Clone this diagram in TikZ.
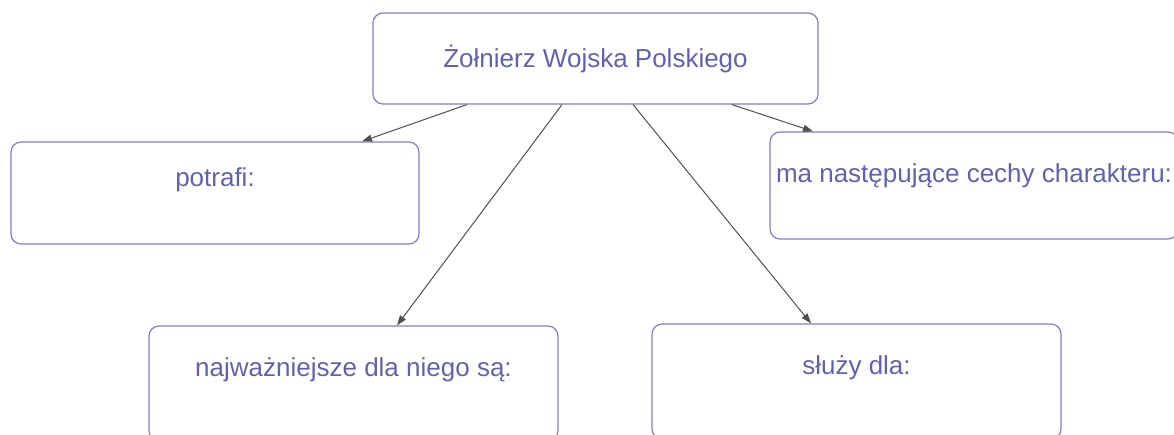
\documentclass[tikz,border=0pt]{standalone}
\usepackage{fontspec}
\setmainfont{Liberation Sans}
\usetikzlibrary{arrows.meta}
\definecolor{boxline}{RGB}{128,128,200}
\definecolor{boxtext}{RGB}{96,98,176}
\definecolor{arrowline}{RGB}{80,80,80}
\tikzset{
  box/.style={draw=boxline, line width=1.2pt, rounded corners=10pt, text=boxtext,
    font=\fontsize{26}{30}\selectfont, inner sep=0pt},
}
\begin{document}
\begin{tikzpicture}[x=1pt,y=-1pt]
      \useasboundingbox (0,0) rectangle (1174,435);
      \clip (0,0) rectangle (1174,435);
      \draw
        (595.5,58.5) node[box, minimum width=445pt, text height=55pt, text depth=36pt] (zolnierz){Żołnierz Wojska Polskiego}
        (215,193) node[box, minimum width=408pt, text height=45pt, text depth=57pt] (potrafi){potrafi:}
        (974,185.5) node[box, minimum width=408pt, text height=51pt, text depth=56pt] (cechy){ma następujące cechy charakteru:}
        (353.5,383.5) node[box, minimum width=409pt, text height=50pt, text depth=65pt] (najwazniejsze){najważniejsze dla niego są:}
        (856.5,381.5) node[box, minimum width=409pt, text height=50pt, text depth=65pt] (sluzy){służy dla:};
      \begin{scope}[-{Triangle[length=10pt,width=7pt]}, draw=arrowline, line width=1pt]
        \draw ([xshift=-128.5pt]zolnierz.south) to ([xshift=147pt]potrafi.north);
        \draw ([xshift=-33.5pt]zolnierz.south) to ([xshift=43.5pt]najwazniejsze.north);
        \draw ([xshift=37.5pt]zolnierz.south) to ([xshift=-45.5pt]sluzy.north);
        \draw ([xshift=136.5pt]zolnierz.south) to ([xshift=-161pt]cechy.north);
      \end{scope}
    \end{tikzpicture}
\end{document}
